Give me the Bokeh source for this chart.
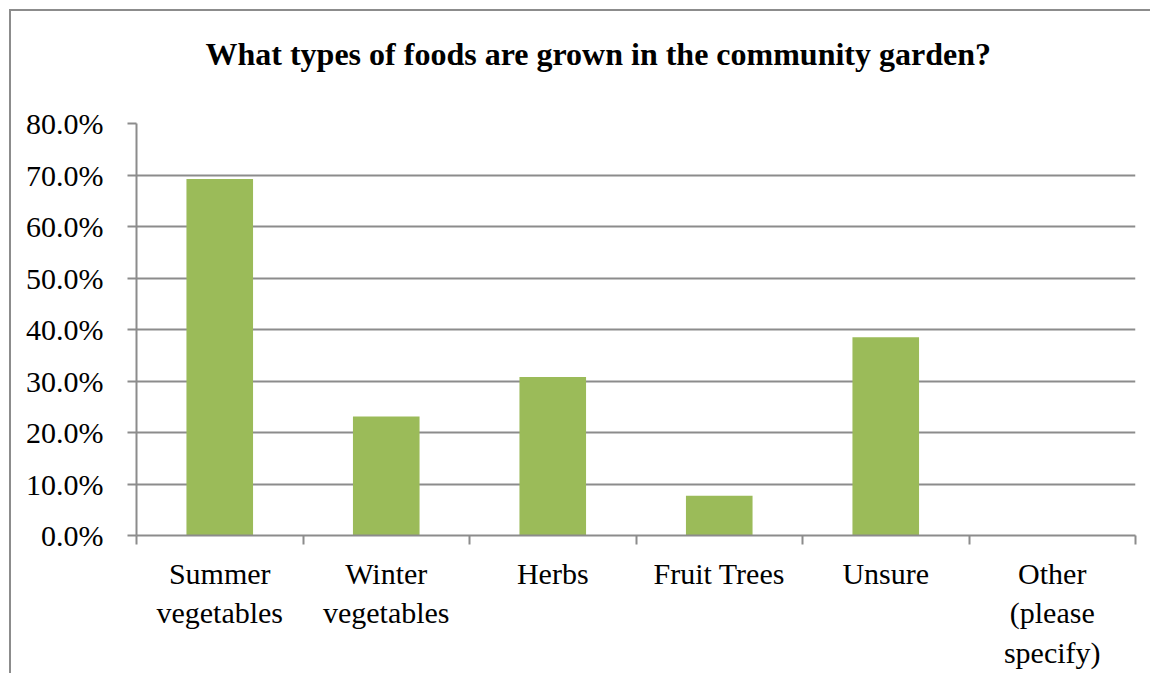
from bokeh.plotting import figure
from bokeh.models import FixedTicker, NumeralTickFormatter, Range1d, ColumnDataSource, Title
from bokeh.embed import file_html
from bokeh.resources import INLINE

categories = ["Summer\nvegetables", "Winter\nvegetables", "Herbs", "Fruit Trees", "Unsure", "Other\n(please\nspecify)"]
values = [0.692, 0.231, 0.308, 0.077, 0.385, 0.0]
title_text = "What types of foods are grown in the community garden?"

FONT = "Liberation Serif"
GRAY = "#8c8c8c"

n = len(categories)
centers = [i + 0.5 for i in range(n)]
src = ColumnDataSource(dict(x=centers, top=values))

p = figure(width=1141, height=664, output_backend="svg", toolbar_location=None,
           x_range=Range1d(0, n), y_range=Range1d(0, 0.8),
           min_border_left=125, min_border_right=17, min_border_top=112, min_border_bottom=140)
p.title = None
spacer = Title(text=" ", text_font_size="1px", standoff=26)
main_title = Title(text=title_text, align="left", offset=69, standoff=45,
                   text_font=FONT, text_font_size="32px", text_font_style="bold", text_color="black")
p.add_layout(spacer, "above")
p.add_layout(main_title, "above")
p.styles = {"margin-left": "9px", "margin-top": "9px",
            "border-left": "2px solid #8c8c8c", "border-top": "2px solid #8c8c8c"}
p.outline_line_color = None

p.vbar(x="x", top="top", width=0.4, source=src, color="#9BBB59", line_color=None)

# y axis
p.yaxis.ticker = FixedTicker(ticks=[i / 10 for i in range(9)])
p.yaxis.formatter = NumeralTickFormatter(format="0.0%")
p.yaxis.major_label_text_font = FONT
p.yaxis.major_label_text_font_size = "30px"
p.yaxis.major_label_text_color = "black"
p.yaxis.major_label_standoff = 24
p.yaxis.axis_line_color = GRAY
p.yaxis.axis_line_width = 2
p.yaxis.major_tick_line_color = GRAY
p.yaxis.major_tick_line_width = 2
p.yaxis.major_tick_out = 9
p.yaxis.major_tick_in = 0
p.yaxis.minor_tick_line_color = None

# x axis: labels at centers, ticks at boundaries
p.xaxis.ticker = FixedTicker(ticks=centers, minor_ticks=list(range(n + 1)))
p.xaxis.major_label_overrides = {c: lab for c, lab in zip(centers, categories)}
p.xaxis.major_label_text_font = FONT
p.xaxis.major_label_text_font_size = "30px"
p.xaxis.major_label_text_color = "black"
p.xaxis.major_label_standoff = 12
p.xaxis.major_tick_line_color = None
p.xaxis.minor_tick_line_color = GRAY
p.xaxis.minor_tick_line_width = 2
p.xaxis.minor_tick_out = 9
p.xaxis.minor_tick_in = 0
p.xaxis.axis_line_color = GRAY
p.xaxis.axis_line_width = 2

p.xgrid.grid_line_color = None
p.ygrid.ticker = FixedTicker(ticks=[i / 10 for i in range(9)])
p.ygrid.grid_line_color = GRAY
p.ygrid.grid_line_width = 2

open("out.html", "w").write(file_html(p, INLINE))
